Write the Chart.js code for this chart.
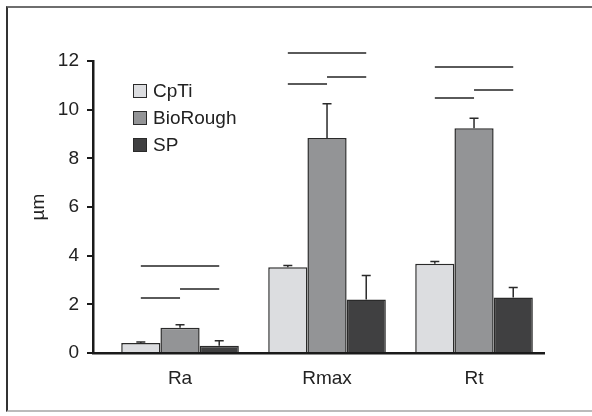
<!DOCTYPE html>
<html>
<head>
<meta charset="utf-8">
<script src="https://cdn.jsdelivr.net/npm/chart.js@4.4.1/dist/chart.umd.min.js"></script>
<style>
    body { margin: 0; background: #fff; overflow: hidden; }
    #wrap { position: relative; width: 592px; height: 416px; overflow: hidden; }
    #frame {
        position: absolute; left: 6px; top: 6px; width: 600px; height: 406px;
        border-top: 2px solid #6e6e6e; border-left: 2px solid #333;
        border-bottom: 2px solid #bbb; box-sizing: border-box;
    }
    #legend {
        position: absolute; left: 133px; top: 77px;
        font: 19px "Liberation Sans", Arial, sans-serif; color: #222;
    }
    .row { display: flex; align-items: center; height: 27px; }
    .box { width: 12px; height: 12px; border: 1.5px solid #2a2a2a; margin-right: 6px; }
</style>
</head>
<body>
<div id="wrap">
    <div id="frame"></div>
    <canvas id="chart" width="592" height="416"></canvas>
    <div id="legend"></div>
</div>
<script>
// Data
const categories = ['Ra', 'Rmax', 'Rt'];
const seriesNames = ['CpTi', 'BioRough', 'SP'];
const cptiValues = [0.41, 3.52, 3.67];
const bioRoughValues = [1.04, 8.84, 9.24];
const spValues = [0.30, 2.20, 2.28];
// upper end of the error bars
const cptiErr = [0.45, 3.60, 3.76];
const bioRoughErr = [1.16, 10.24, 9.65];
const spErr = [0.50, 3.19, 2.69];
const yTicks = [0, 2, 4, 6, 8, 10, 12];

// Significance lines: group, from series, to series, height
const sigGroup = [0, 0, 0, 1, 1, 1, 2, 2, 2];
const sigFrom = [0, 0, 1, 0, 0, 1, 0, 0, 1];
const sigTo = [2, 1, 2, 2, 1, 2, 2, 1, 2];
const sigY = [3.56, 2.28, 2.61, 12.32, 11.05, 11.36, 11.77, 10.50, 10.81];

const colors = ['#dcdde0', '#939496', '#404041'];
const allValues = [cptiValues, bioRoughValues, spValues];
const allErr = [cptiErr, bioRoughErr, spErr];
const FONT = '"Liberation Sans", Arial, sans-serif';

// Legend
document.getElementById('legend').innerHTML = seriesNames.map((name, i) => `
    <div class="row"><span class="box" style="background:${colors[i]}"></span>${name}</div>
`).join('');

const extrasPlugin = {
    id: 'extras',
    afterDatasetsDraw(chart) {
        const ctx = chart.ctx;
        const y = chart.scales.y;
        ctx.save();
        // error bars
        ctx.strokeStyle = '#2a2a2a';
        ctx.lineWidth = 1.5;
        allErr.forEach((errs, s) => {
            const meta = chart.getDatasetMeta(s);
            errs.forEach((e, g) => {
                const bar = meta.data[g];
                const top = y.getPixelForValue(e);
                ctx.beginPath();
                ctx.moveTo(bar.x, bar.y);
                ctx.lineTo(bar.x, top);
                ctx.moveTo(bar.x - 4.5, top);
                ctx.lineTo(bar.x + 4.5, top);
                ctx.stroke();
            });
        });
        // significance lines
        ctx.strokeStyle = '#5a5a5a';
        ctx.lineWidth = 2;
        sigY.forEach((v, i) => {
            const g = sigGroup[i];
            const x1 = chart.getDatasetMeta(sigFrom[i]).data[g].x;
            const x2 = chart.getDatasetMeta(sigTo[i]).data[g].x;
            const py = Math.round(y.getPixelForValue(v));
            ctx.beginPath();
            ctx.moveTo(x1, py);
            ctx.lineTo(x2, py);
            ctx.stroke();
        });
        ctx.restore();
    }
};

new Chart(document.getElementById('chart'), {
    type: 'bar',
    data: {
        datasets: seriesNames.map((name, s) => ({
            label: name,
            data: allValues[s].map((v, i) => ({ x: i, y: v })),
            backgroundColor: colors[s],
            borderColor: '#2a2a2a',
            borderWidth: 1.5,
            categoryPercentage: 0.8,
            barPercentage: 1
        }))
    },
    options: {
        responsive: false,
        animation: false,
        layout: { padding: { left: 0, top: 61, right: 48, bottom: 0 } },
        plugins: { legend: { display: false }, tooltip: { enabled: false } },
        scales: {
            x: {
                type: 'linear',
                min: -0.592,
                max: 2.476,
                offset: false,
                afterBuildTicks: scale => { scale.ticks = categories.map((c, i) => ({ value: i })); },
                afterFit: scale => { scale.height = 63; },
                grid: { display: false },
                border: { display: true, color: '#1a1a1a', width: 2.5 },
                ticks: {
                    color: '#222',
                    padding: 6,
                    font: { family: FONT, size: 19 },
                    callback: v => categories[v]
                }
            },
            y: {
                min: 0,
                max: 12,
                afterBuildTicks: scale => { scale.ticks = yTicks.map(v => ({ value: v })); },
                afterFit: scale => { scale.width = 93; },
                grid: { drawOnChartArea: false, drawTicks: true, tickLength: 6, color: '#1a1a1a', lineWidth: 2 },
                border: { display: true, color: '#1a1a1a', width: 2.5 },
                ticks: { color: '#222', padding: 8, font: { family: FONT, size: 19 } },
                title: {
                    display: true,
                    text: 'µm',
                    color: '#222',
                    font: { family: FONT, size: 19 },
                    padding: { top: 27 }
                }
            }
        }
    },
    plugins: [extrasPlugin]
});
</script>
</body>
</html>
